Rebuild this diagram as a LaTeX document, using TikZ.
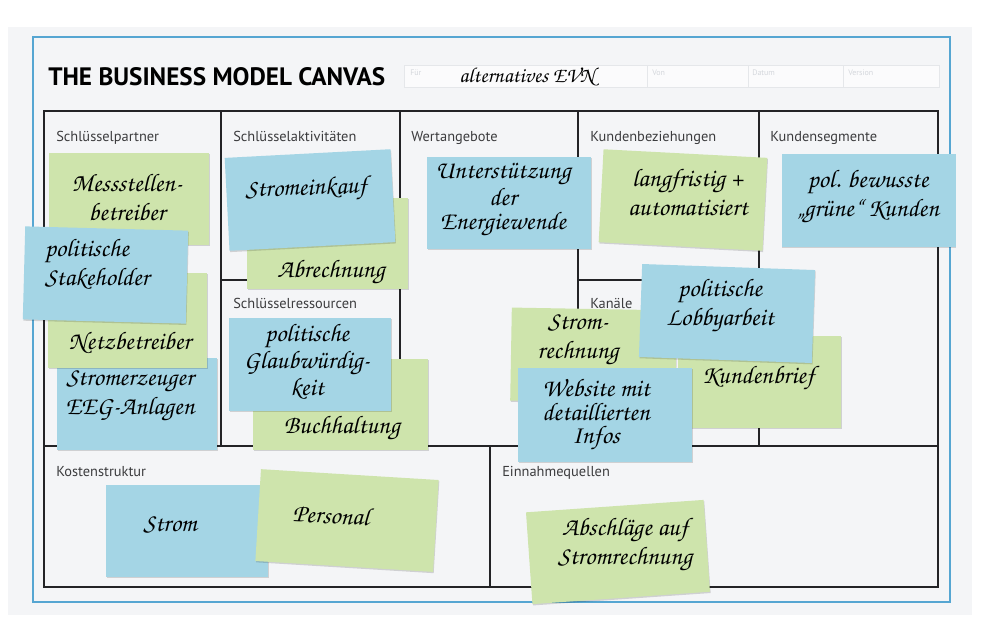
\documentclass[tikz,border=0pt]{standalone}
\usepackage[T1,TU]{fontenc}
\usepackage{fontspec}
\usetikzlibrary{shadows}
\newfontfamily\lblfont{PT Sans}
\definecolor{paper}{RGB}{244,245,247}
\definecolor{frameblue}{RGB}{86,166,210}
\definecolor{gridline}{RGB}{35,35,38}
\definecolor{labelgrey}{RGB}{60,60,62}
\definecolor{fieldgrey}{RGB}{212,215,220}
\definecolor{notegreen}{RGB}{206,228,172}
\definecolor{noteblue}{RGB}{164,213,229}
\newcommand\stickynote[7]{%
  \node[notebox,#2,minimum width=#5*0.75pt,minimum height=#6*0.75pt,rotate=#7] (#1) at (#3,#4) {};}
\begin{document}
\begin{tikzpicture}[x=0.75pt,y=-0.75pt,
  grid/.style={draw=gridline,line width=1.1pt},
  cell/.style={font=\lblfont\fontsize{10.8}{12}\selectfont,text=labelgrey,anchor=base west,inner sep=0pt},
  fieldlbl/.style={font=\lblfont\fontsize{6}{7}\selectfont,text=fieldgrey,anchor=west,inner sep=0pt},
  notebox/.style={inner sep=0pt,draw=none,drop shadow={shadow xshift=0.5pt,shadow yshift=-1pt,opacity=0.15,fill=black}},
  gnote/.style={fill=notegreen},
  bnote/.style={fill=noteblue},
  hand/.style={font={\fontencoding{T1}\fontfamily{pzc}\fontseries{mb}\fontshape{it}\fontsize{19}{22}\selectfont},align=center,inner sep=0pt,text=black},
  tighthand/.style={font={\fontencoding{T1}\fontfamily{pzc}\fontseries{mb}\fontshape{it}\fontsize{19}{17.5}\selectfont}}]
\useasboundingbox (0,0) rectangle (1000,625);
\fill[white] (0,0) rectangle (1000,625);
\fill[paper] (8,27) rectangle (972,615);
\draw[frameblue,line width=1.1pt] (33,37) rectangle (950,602);
% header
\node[font=\lblfont\bfseries\fontsize{18.9}{22}\selectfont,anchor=base west,inner sep=0pt] (title) at (48,85) {THE BUSINESS MODEL CANVAS};
\draw[fieldgrey!60,fill=white!60!paper,line width=0.5pt] (404,65) rectangle (939,87);
\draw[fieldgrey!60,line width=0.5pt] (647,65) -- (647,87) (748,65) -- (748,87) (843,65) -- (843,87);
\node[fieldlbl] (ffuer) at (410,73) {Für};
\node[fieldlbl] (fvon) at (652,73) {Von};
\node[fieldlbl] (fdatum) at (752,73) {Datum};
\node[fieldlbl] (fversion) at (848,73) {Version};
\node[hand,font={\fontencoding{T1}\fontfamily{pzc}\fontseries{mb}\fontshape{it}\fontsize{16}{18}\selectfont}] (evn) at (527,77) {alternatives EVN};
% canvas grid
\draw[grid] (44,111) rectangle (938,587);
\draw[grid] (44,446) -- (938,446);
\draw[grid] (221,111) -- (221,446) (400,111) -- (400,446) (578,111) -- (578,446) (759,111) -- (759,446);
\draw[grid] (221,280) -- (400,280) (578,280) -- (759,280);
\draw[grid] (490,446) -- (490,587);
% cell labels
\node[cell] (lpartner) at (56,141) {Schlüsselpartner};
\node[cell] (laktiv) at (233,141) {Schlüsselaktivitäten};
\node[cell] (lwert) at (411,141) {Wertangebote};
\node[cell] (lbez) at (590,141) {Kundenbeziehungen};
\node[cell] (lseg) at (770,141) {Kundensegmente};
\node[cell] (lres) at (233,308) {Schlüsselressourcen};
\node[cell] (lkan) at (590,308) {Kanäle};
\node[cell] (lkost) at (56,476) {Kostenstruktur};
\node[cell] (lein) at (502,476) {Einnahmequellen};
% Schluesselpartner
\stickynote{n4}{bnote}{137}{404}{160}{92}{0}
\node[hand] (t4) at (130,396) {Stromerzeuger\\EEG-Anlagen};
\stickynote{n3}{gnote}{127.5}{320.5}{159}{95}{0}
\node[hand] (t3) at (130,343) {Netzbetreiber};
\stickynote{n1}{gnote}{129}{199}{160}{92}{0}
\node[hand] (t1) at (127,197) {Messstellen-\\betreiber};
\stickynote{n2}{bnote}{105.5}{275}{163}{93}{-1.5}
\node[hand,align=left] (t2) at (97,264) {politische\\Stakeholder};
% Schluesselaktivitaeten
\stickynote{n6}{gnote}{327.5}{243.5}{161}{91}{0}
\node[hand] (t6) at (331,272) {Abrechnung};
\stickynote{n5}{bnote}{310}{200}{166}{93}{3}
\node[hand,rotate=2] (t5) at (306,190) {Stromeinkauf};
% Schluesselressourcen
\stickynote{n8}{gnote}{340.5}{404}{175}{91}{0}
\node[hand] (t8) at (342,428) {Buchhaltung};
\stickynote{n7}{bnote}{310}{364.5}{162}{93}{0}
\node[hand,tighthand] (t7) at (307,362) {politische\\Glaubwürdig-\\keit};
% Wertangebote
\stickynote{n9}{bnote}{509}{203}{164}{92}{0}
\node[hand,tighthand] (t9) at (503,200) {Unterstützung\\der\\Energiewende};
% Kundenbeziehungen
\stickynote{n10}{gnote}{683}{200}{164}{93}{-3}
\node[hand] (t10) at (688,192) {langfristig +\\automatisiert};
% Kundensegmente
\stickynote{n11}{bnote}{868.5}{200.5}{174}{93}{0}
\node[hand] (t11) at (868,197) {pol. bewusste\\\quotedblbase grüne\textquotedblleft{} Kunden};
% Kanaele
\stickynote{n12}{gnote}{593.5}{355.5}{165}{93}{-1}
\node[hand] (t12) at (578,340) {Strom-\\rechnung};
\stickynote{n14}{gnote}{759.5}{382}{163}{92}{0}
\node[hand] (t14) at (758,378) {Kundenbrief};
\stickynote{n13}{bnote}{727}{313.5}{173}{93}{-2}
\node[hand] (t13) at (720,306) {politische\\Lobbyarbeit};
\stickynote{n15}{bnote}{605}{414.5}{174}{94}{0}
\node[hand,tighthand] (t15) at (596,415) {Website mit\\detaillierten\\Infos};
% Kostenstruktur
\stickynote{n16}{bnote}{187}{531}{162}{92}{0}
\node[hand] (t16) at (170,525) {Strom};
\stickynote{n17}{gnote}{347}{520.5}{178}{92}{-3.5}
\node[hand,rotate=-3] (t17) at (331,515) {Personal};
% Einnahmequellen
\stickynote{n18}{gnote}{618}{552}{178}{92}{4}
\node[hand] (t18) at (625,545) {Abschläge auf\\Stromrechnung};
\end{tikzpicture}
\end{document}
